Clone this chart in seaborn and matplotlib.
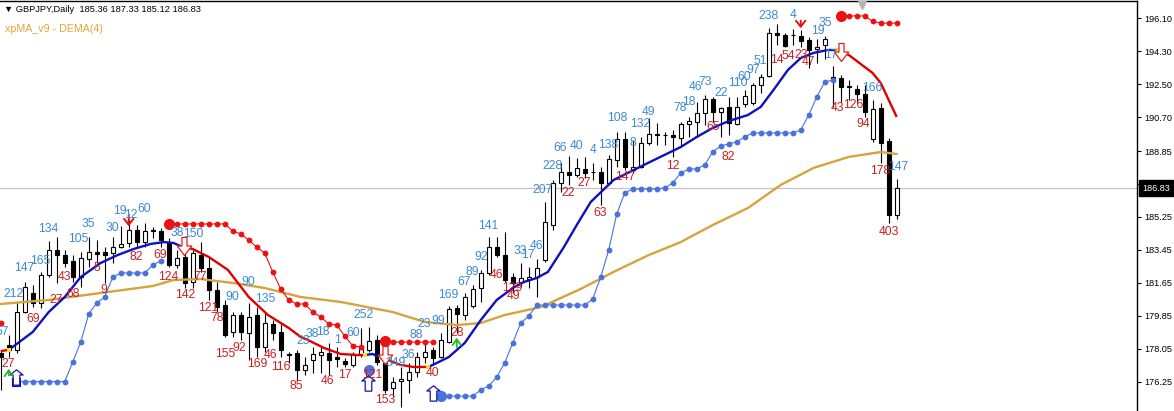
import matplotlib
matplotlib.use("Agg")
import matplotlib.pyplot as plt
import matplotlib.transforms as mtransforms
from matplotlib.path import Path
import numpy as np
import seaborn as sns

# ---------------- data (GBPJPY daily) ----------------
opens = [177.80, 178.26, 177.99, 180.08, 181.12, 180.54, 182.08, 183.45, 183.18, 182.85,
         181.99, 182.94, 183.32, 183.32, 183.27, 183.63, 183.81, 184.54, 183.90, 184.51,
         184.51, 183.85, 182.63, 183.09, 181.72, 183.18, 182.45, 181.27, 180.45, 178.99,
         179.90, 178.90, 179.90, 178.17, 179.41, 178.99, 177.77, 177.81, 176.90, 177.44,
         177.72, 177.81, 177.59, 177.41, 177.17, 177.72, 177.99, 178.54, 177.26, 175.90,
         176.32, 176.35, 176.81, 177.63, 177.99, 177.63, 178.44, 180.26, 179.90, 180.39,
         181.36, 182.21, 183.63, 183.18, 181.99, 181.72, 181.85, 181.99, 182.90, 184.81,
         187.09, 187.73, 187.54, 187.85, 187.73, 187.73, 187.09, 188.36, 189.49, 187.82,
         188.00, 189.27, 189.77, 189.74, 189.73, 189.55, 190.33, 190.46, 190.91, 191.68,
         191.00, 191.24, 190.33, 191.42, 191.46, 192.46, 192.95, 195.28, 195.19, 195.20,
         195.13, 194.92, 194.42, 194.64, 192.91, 192.82, 192.37, 192.22, 191.97, 189.49,
         191.18, 189.42, 185.36]
highs = [178.00, 178.81, 180.63, 181.72, 181.54, 182.27, 183.96, 184.14, 183.45, 183.18,
         183.36, 184.18, 184.00, 183.63, 184.18, 184.76, 185.09, 184.81, 184.94, 184.72,
         184.63, 184.09, 183.45, 183.54, 183.45, 183.90, 183.09, 181.72, 180.72, 180.08,
         180.08, 180.54, 180.36, 179.99, 179.63, 179.41, 177.90, 177.99, 177.63, 178.17,
         178.17, 178.35, 178.17, 177.53, 177.90, 179.17, 179.26, 178.81, 177.35, 176.53,
         177.08, 177.26, 177.90, 178.54, 178.17, 178.90, 180.39, 180.45, 181.08, 181.54,
         182.36, 184.18, 184.18, 184.45, 182.18, 182.72, 182.54, 182.94, 186.07, 187.27,
         188.18, 188.58, 188.45, 188.55, 188.22, 188.00, 188.64, 189.91, 189.91, 189.46,
         189.64, 190.64, 190.37, 189.91, 190.00, 190.46, 190.73, 191.55, 191.91, 191.82,
         191.28, 191.82, 191.82, 192.19, 192.55, 193.06, 195.55, 195.79, 195.32, 195.50,
         195.46, 195.10, 194.95, 195.13, 193.50, 193.00, 192.73, 192.46, 192.46, 191.64,
         191.46, 189.55, 187.33]
lows = [175.80, 177.63, 177.80, 179.99, 180.36, 180.26, 181.96, 181.63, 182.54, 181.72,
        181.45, 182.54, 182.72, 181.63, 182.72, 183.54, 183.63, 183.63, 183.63, 184.09,
        183.63, 182.54, 182.45, 181.36, 181.36, 182.27, 180.72, 180.08, 178.72, 178.72,
        178.54, 177.44, 177.63, 177.90, 178.54, 177.63, 177.26, 176.35, 176.62, 176.72,
        176.72, 176.62, 177.08, 177.08, 177.08, 177.63, 177.90, 177.17, 175.62, 175.44,
        174.90, 175.62, 176.53, 177.26, 177.17, 177.53, 178.35, 178.90, 179.63, 180.26,
        180.63, 182.08, 183.09, 181.72, 181.08, 181.45, 181.36, 180.90, 182.81, 184.54,
        186.63, 187.00, 187.45, 187.36, 187.27, 185.91, 187.00, 188.00, 187.82, 187.64,
        187.91, 189.18, 189.18, 189.18, 188.55, 189.09, 189.64, 189.64, 190.27, 190.46,
        189.64, 189.73, 190.27, 191.28, 191.37, 192.00, 192.88, 194.64, 194.55, 194.64,
        194.55, 193.37, 193.64, 193.86, 191.28, 191.55, 191.64, 191.46, 190.73, 189.36,
        188.18, 184.92, 185.12]
closes = [177.60, 177.99, 180.08, 181.45, 180.54, 182.08, 183.45, 183.18, 182.72, 181.96,
          182.99, 183.32, 183.23, 183.18, 183.63, 183.78, 184.54, 183.90, 184.51, 184.49,
          184.00, 182.63, 182.99, 181.63, 183.27, 182.45, 181.27, 180.36, 178.81, 179.90,
          178.99, 179.81, 178.17, 179.45, 178.94, 177.99, 177.70, 176.90, 177.17, 177.77,
          177.90, 177.44, 177.48, 177.23, 177.77, 178.03, 178.50, 177.35, 175.81, 176.26,
          176.39, 176.81, 177.63, 177.90, 177.53, 178.54, 180.21, 179.96, 180.90, 181.30,
          182.21, 183.63, 183.18, 181.81, 181.63, 181.90, 181.99, 182.45, 185.00, 187.09,
          187.73, 187.54, 187.91, 187.64, 187.70, 187.09, 188.40, 189.49, 188.00, 188.00,
          189.27, 189.77, 189.75, 189.72, 189.60, 190.33, 190.51, 190.95, 191.68, 191.00,
          191.18, 190.40, 191.24, 191.86, 192.46, 192.91, 195.32, 195.19, 194.59, 195.18,
          194.88, 194.37, 194.55, 194.95, 192.73, 192.33, 192.35, 191.97, 191.00, 191.13,
          189.31, 185.36, 186.83]

# long moving average (gold)
gold_x = [0, 6, 12.5, 19, 21.6, 25, 29, 33, 37.5, 42.5, 49, 53, 57, 60, 63, 67.5, 72.5,
          76.6, 81, 85, 89, 93.4, 97.5, 101.6, 106, 110, 112]
gold_val = [180.50, 180.72, 181.10, 181.48, 181.81, 181.86, 181.65, 181.37, 180.88, 180.61,
            180.06, 179.52, 179.35, 179.46, 179.90, 180.33, 181.32, 182.25, 183.17, 183.88,
            184.81, 185.74, 187.00, 187.93, 188.53, 188.80, 188.69]

# xpMA DEMA(4) line, with trend state (True = up / blue)
ma_x = [0, 1, 4, 6, 8, 10, 12.5, 14.6, 16.6, 18.75, 20.4, 21.6, 22.75, 24, 26, 28.4, 31,
        33.4, 36, 37.5, 38.4, 40.4, 42.5, 44.6, 45.5, 46.5, 47.5, 48.4, 50, 51.6, 53.4, 54,
        56, 58, 60, 62, 64, 65.4, 67, 68.4, 70.4, 72, 73.75, 76.6, 80.9, 85, 87, 89, 91,
        93.4, 95, 96.6, 98.4, 100, 101.6, 103.4, 104.5, 106, 108, 109, 110, 111, 112]
ma_val = [177.93, 177.99, 178.97, 180.06, 180.88, 181.97, 182.74, 183.17, 183.50, 183.78,
          183.88, 183.83, 183.61, 183.50, 183.07, 182.36, 180.88, 179.90, 179.19, 178.70,
          178.53, 178.10, 177.77, 177.71, 177.71, 177.77, 177.55, 177.44, 177.17, 177.06,
          177.06, 177.17, 177.60, 178.37, 179.62, 180.72, 181.37, 181.70, 181.92, 182.25,
          183.61, 184.81, 186.07, 187.27, 188.20, 189.07, 189.62, 190.11, 190.49, 190.82,
          191.26, 192.19, 193.28, 193.93, 194.21, 194.37, 194.37, 194.10, 193.44, 193.11,
          192.57, 191.64, 190.71]
ma_up = [False, True, True, True, True, True, True, True, True, True, True, True,
         False, False, False, False, False, False, False, False, False, False, False, False,
         True, True, False, False, False, False, True, True, True, True, True, True, True,
         True, True, True, True, True, True, True, True, True, True, True, True, True, True,
         True, True, True, True, True, False, False, False, False, False, False, False]

# trailing stop dots
blue1_x = list(range(2, 21))
blue1_val = [176.26] * 7 + [177.33, 178.42, 179.95, 180.55, 180.88, 181.97] + [182.19] * 4 + [182.63, 182.85]
red1_x = list(range(21, 46))
red1_val = [184.87] * 8 + [184.49, 184.32, 183.99, 183.61, 183.28, 182.25, 181.32, 180.72,
                          180.50, 180.50, 180.06, 179.79, 179.41, 179.35, 178.75, 178.21, 178.15]
red2_x = list(range(48, 55))
red2_val = [178.48] + [178.42] * 6
blue2_x = list(range(55, 105))
blue2_val = ([175.47] * 5 + [175.80, 176.02, 176.51, 177.28, 178.37, 179.46, 179.84] + [180.44] * 7 +
             [180.77, 181.97, 183.45, 185.41, 186.56] + [186.78] * 4 + [186.83, 187.11, 187.65, 187.87, 187.87,
             188.09, 188.80, 189.13, 189.24, 189.35, 189.62] + [189.84] * 6 + [190.00, 190.82, 191.80, 192.62, 192.73])
red3_x = list(range(105, 113))
red3_val = [196.23] * 4 + [195.93] + [195.84] * 3

red_big_x = [21, 48, 105]
red_big_val = [184.87, 178.48, 196.23]
blue_big_x = [46, 55]
blue_big_val = [176.89, 175.47]

# swing labels
blue_lab_x = [0.25, 1.6, 2.9, 5.0, 6.0, 9.75, 10.9, 14.0, 14.9, 16.25, 17.9, 22.1, 24.1, 30.9, 29.0,
              33.1, 37.75, 39.0, 40.25, 42.1, 44.0, 45.4, 49.4, 51.0, 51.9, 52.9, 54.75, 56.0, 57.9,
              59.0, 60.0, 61.0, 64.9, 65.9, 67.0, 67.75, 69.0, 69.9, 72.0, 74.0, 75.9, 77.1, 79.0,
              80.0, 81.0, 84.9, 86.0, 86.9, 88.1, 90.0, 92.1, 92.9, 94.0, 94.9, 96.0, 99.1, 102.1,
              103.1, 103.75, 109.0, 112.25]
blue_lab_p = [178.97, 181.04, 182.46, 182.85, 184.59, 184.05, 184.87, 184.65, 185.58, 185.36, 185.69,
              184.38, 184.32, 181.70, 180.88, 180.77, 178.48, 178.86, 178.97, 178.53, 178.91, 179.90,
              177.28, 177.71, 178.81, 179.41, 179.57, 180.99, 181.70, 182.25, 183.07, 184.76, 183.39,
              183.17, 183.67, 186.72, 188.03, 189.02, 189.13, 188.91, 189.18, 190.66, 189.29, 190.33,
              190.98, 191.20, 191.53, 192.35, 192.62, 192.02, 192.57, 192.90, 193.28, 193.77, 196.23,
              196.28, 195.41, 195.84, 194.10, 192.29, 187.98]
blue_lab_txt = ["57", "212", "147", "165", "134", "105", "35", "30", "19", "12", "60", "38", "150",
                "90", "90", "135", "23", "38", "18", "1", "60", "252", "349", "36", "88", "23", "99",
                "169", "67", "89", "92", "141", "33", "17", "46", "207", "228", "66", "40", "4",
                "138", "108", "8", "132", "49", "78", "18", "46", "73", "22", "110", "60", "97",
                "51", "238", "4", "19", "35", "17", "166", "147"]
red_lab_x = [0.9, 4.0, 6.9, 9.0, 8.0, 12.0, 12.9, 16.9, 19.9, 21.0, 23.1, 24.9, 25.9, 27.0, 28.1,
             29.75, 32.1, 33.75, 35.0, 36.9, 40.9, 43.0, 46.5, 48.1, 54.0, 57.1, 62.0, 64.0, 64.1,
             70.9, 72.9, 74.9, 78.1, 84.0, 89.0, 90.9, 97.0, 98.4, 100.0, 101.0, 104.6, 106.6,
             107.75, 110.0, 111.0]
red_lab_p = [177.22, 179.68, 180.72, 181.04, 181.97, 182.46, 181.26, 183.07, 183.17, 181.97, 180.99,
             181.97, 180.28, 179.73, 177.77, 178.10, 177.22, 177.71, 177.06, 176.02, 176.29, 176.62,
             176.62, 175.26, 176.73, 178.91, 182.08, 181.37, 180.94, 186.56, 187.11, 185.47, 187.43,
             188.03, 190.16, 188.53, 193.82, 194.04, 194.10, 193.71, 191.20, 191.37, 190.33, 187.76,
             184.43]
red_lab_txt = ["27", "69", "27", "68", "43", "5", "9", "82", "69", "124", "142", "77", "121", "78",
               "155", "92", "169", "46", "116", "85", "46", "17", "121", "153", "40", "28", "46",
               "129", "49", "22", "27", "63", "147", "12", "65", "82", "14", "54", "23", "47", "43",
               "126", "94", "178", "403"]

# signals
buy_x = [1.9, 45.9, 54.0]
buy_p = [176.51, 176.18, 175.64]
sell_x = [22.9, 48.0, 105.0]
sell_p = [183.67, 177.74, 194.26]
green_x = [1.0, 57.0]
green_tail = [176.46, 177.99]
green_head = [177.11, 178.81]
reddn_x = [16.0, 100.0]
reddn_tail = [185.52, 196.12]
reddn_head = [184.59, 195.41]

price_ticks = [196.10, 194.30, 192.50, 190.70, 188.85, 187.05, 185.25, 183.45, 181.65, 179.85, 178.05, 176.25]
last_price = 186.83

# ---------------- styling ----------------
sns.set_theme(style="white")
plt.rcParams['font.family'] = ['Liberation Sans', 'DejaVu Sans']

BLUE_TXT = "#3a8ad6"
RED_TXT = "#cc2020"
MA_BLUE = "#1010c0"
MA_RED = "#e00000"
DOT_BLUE = "#4a72dc"
DOT_RED = "#ee1111"
GOLD = "#d6a33c"

W, H = 1174, 411
fig = plt.figure(figsize=(W / 100, H / 100), dpi=100)
fig.patch.set_facecolor("white")
ax = fig.add_axes([0, 0, 1137 / W, 410 / H])
ax.set_facecolor("white")
x_left = -0.09
ax.set_xlim(x_left, x_left + 1137 / 8)
ax.set_ylim(197.1 - 411 * 0.05461, 197.1 - 1 * 0.05461)

# candles
o = np.array(opens); c = np.array(closes); h = np.array(highs); l = np.array(lows)
idx = np.arange(len(o))
ax.vlines(idx, l, h, color="black", lw=0.8, zorder=2)
up = c >= o
lo = np.minimum(o, c)
bh = np.maximum(np.abs(c - o), 0.03)
ax.bar(idx[up], bh[up], bottom=lo[up], width=0.5, facecolor="white", edgecolor="black",
       linewidth=0.8, zorder=2.2)
ax.bar(idx[~up], bh[~up], bottom=lo[~up], width=0.5, facecolor="black", edgecolor="black",
       linewidth=0.8, zorder=2.2)

# gold MA
sns.lineplot(x=gold_x, y=gold_val, ax=ax, color=GOLD, lw=1.7, sort=False, zorder=3)

# trailing stop dotted lines
for xs, vs, col in [(blue1_x, blue1_val, DOT_BLUE), (blue2_x, blue2_val, DOT_BLUE),
                    (red1_x, red1_val, DOT_RED), (red2_x, red2_val, DOT_RED), (red3_x, red3_val, DOT_RED)]:
    sns.lineplot(x=xs, y=vs, ax=ax, color=col, lw=0.8, marker="o", markersize=4.2,
                 markeredgewidth=0, sort=False, zorder=3.5)
ax.plot([0], [179.46], "o", color=DOT_RED, markersize=4.2, markeredgewidth=0, zorder=3.5)
ax.plot(red_big_x, red_big_val, "o", color=DOT_RED, markersize=8, markeredgewidth=0, zorder=3.6, ls="none")
ax.plot(blue_big_x, blue_big_val, "o", color=DOT_BLUE, markersize=8, markeredgewidth=0, zorder=3.6, ls="none")
ax.plot([1.9], [176.26], "s", color=DOT_BLUE, markersize=6, markeredgecolor="#1010a0",
        markeredgewidth=0.8, zorder=5)

# DEMA line coloured by trend
start = 0
for k in range(1, len(ma_x)):
    if k == len(ma_x) - 1 or ma_up[k] != ma_up[start]:
        col = MA_BLUE if ma_up[start] else MA_RED
        ax.plot(ma_x[start:k + 1], ma_val[start:k + 1], color=col, lw=1.7, zorder=4,
                solid_capstyle="butt")
        start = k
chg = [k for k in range(1, len(ma_x)) if ma_up[k] != ma_up[k - 1]]
ax.plot([ma_x[k] for k in chg], [ma_val[k] for k in chg], "s", color="#ffe020",
        markersize=3, markeredgewidth=0, zorder=4.2, ls="none")

# signal arrows
up_arrow = Path([(0, 1), (0.87, 0.33), (0.43, 0.33), (0.43, -1), (-0.43, -1), (-0.43, 0.33),
                 (-0.87, 0.33), (0, 1)], closed=True)
dn_box = Path([(-0.28, 1), (0.28, 1), (0.28, 0.05), (0.8, 0.05), (0, -1), (-0.8, 0.05),
               (-0.28, 0.05), (-0.28, 1)], closed=True)
ax.plot(buy_x, buy_p, ls="none", marker=up_arrow, markersize=11, markerfacecolor="white",
        markeredgecolor="#1414a8", markeredgewidth=0.9, zorder=5)
ax.plot(sell_x, sell_p, ls="none", marker=dn_box, markersize=13, markerfacecolor="white",
        markeredgecolor="#e02020", markeredgewidth=0.9, zorder=5)
for xg, t0, t1 in zip(green_x, green_tail, green_head):
    ax.annotate("", xy=(xg, t1), xytext=(xg, t0),
                arrowprops=dict(arrowstyle="->,head_length=0.35,head_width=0.25", color="#22bb22", lw=1.3),
                zorder=5)
for xr, t0, t1 in zip(reddn_x, reddn_tail, reddn_head):
    ax.annotate("", xy=(xr, t1), xytext=(xr, t0),
                arrowprops=dict(arrowstyle="->,head_length=0.35,head_width=0.28", color="#e01010", lw=1.4),
                zorder=5)

# swing labels
for xv, pv, tv in zip(blue_lab_x, blue_lab_p, blue_lab_txt):
    ax.text(xv, pv, tv, color=BLUE_TXT, fontsize=8.7, ha="center", va="center", zorder=6)
for xv, pv, tv in zip(red_lab_x, red_lab_p, red_lab_txt):
    ax.text(xv, pv, tv, color=RED_TXT, fontsize=8.7, ha="center", va="center", zorder=6)

# current price line
ax.axhline(last_price, color="#c4c4c4", lw=0.9, zorder=1)

# axes frame / ticks
for s in ["left", "bottom"]:
    ax.spines[s].set_visible(False)
for s in ["top", "right"]:
    ax.spines[s].set_visible(True)
    ax.spines[s].set_color("black")
    ax.spines[s].set_linewidth(1.0)
ax.set_xticks([])
ax.yaxis.tick_right()
ax.set_yticks(price_ticks)
ax.set_yticklabels([f"{t:.2f}" for t in price_ticks])
ax.tick_params(axis="y", direction="out", length=3, width=0.8, pad=2, labelsize=6.6,
               colors="black", right=True, left=False)
ax.grid(False)

trans = mtransforms.blended_transform_factory(ax.transAxes, ax.transData)
ax.text(1 + 5.5 / 1137, last_price, f"{last_price:.2f}", transform=trans, color="white",
        fontsize=6.6, va="center", ha="left", clip_on=False, zorder=10,
        bbox=dict(boxstyle="square,pad=0.35", fc="black", ec="black"))

# small gray marker on top frame
ax.plot([862 / 1137], [1 - 4 / 410], marker="v", color="#b4b4b4", markersize=6,
        transform=ax.transAxes, clip_on=False, zorder=7)

# header texts
fig.text(4 / W, 1 - 9 / H, "\u25BC GBPJPY,Daily  185.36 187.33 185.12 186.83", fontsize=6.7,
         color="black", va="center", ha="left")
fig.text(5 / W, 1 - 29 / H, "xpMA_v9 - DEMA(4)", fontsize=7.7, color="#e2a535",
         va="center", ha="left")

fig.savefig("out.png", dpi=100, facecolor="white")
